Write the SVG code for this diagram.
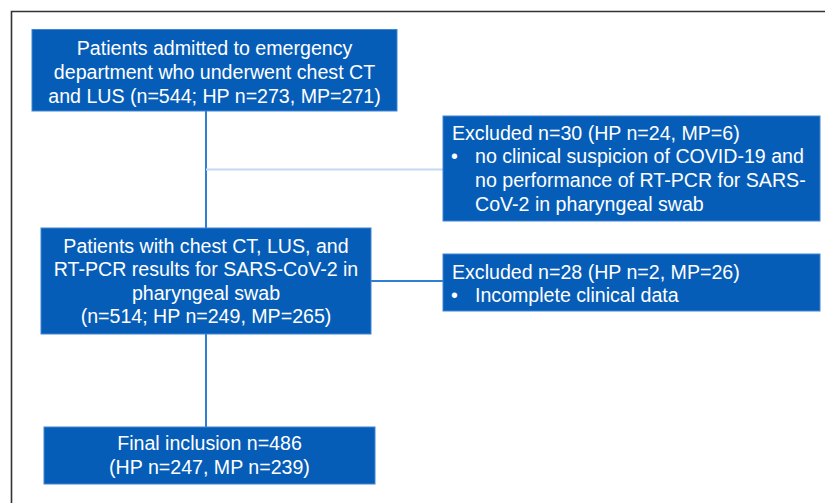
<svg xmlns="http://www.w3.org/2000/svg" width="825" height="503" viewBox="0 0 825 503">
<style>
.box{fill:#065db8;stroke:#3f86d4;stroke-width:1}
.t{font-family:"Liberation Sans",Arial,sans-serif;font-size:19.6px;fill:#ffffff}
.c{text-anchor:middle}
.ln{stroke:#2f7fd2;stroke-width:2;fill:none}
</style>
<rect width="825" height="503" fill="#ffffff"/>
<path d="M11.5,503 V11.5 H825" fill="none" stroke="#333333" stroke-width="1.6"/>
<g id="connectors">
<line class="ln" x1="206" y1="111" x2="206" y2="228"/>
<line x1="206" y1="169.5" x2="443" y2="169.5" stroke="#c6d8f1" stroke-width="2"/>
<line class="ln" x1="206" y1="334" x2="206" y2="427"/>
<line class="ln" x1="371" y1="281" x2="443" y2="281" stroke-width="1.6"/>
</g>
<g id="n1">
<rect class="box" x="32" y="29.5" width="365" height="81.5"/>
<text class="t c" x="214.5" y="55">Patients admitted to emergency</text>
<text class="t c" x="214.5" y="79">department who underwent chest CT</text>
<text class="t c" x="214.5" y="102.5">and LUS (n=544; HP n=273, MP=271)</text>
</g>
<g id="n2">
<rect class="box" x="443" y="116" width="377" height="105"/>
<text class="t" x="452" y="139.5">Excluded n=30 (HP n=24, MP=6)</text>
<text class="t" x="451" y="163">•</text>
<text class="t" x="475" y="163">no clinical suspicion of COVID-19 and</text>
<text class="t" x="475" y="187">no performance of RT-PCR for SARS-</text>
<text class="t" x="475" y="211">CoV-2 in pharyngeal swab</text>
</g>
<g id="n3">
<rect class="box" x="41" y="228" width="330" height="106"/>
<text class="t c" x="206" y="252.5">Patients with chest CT, LUS, and</text>
<text class="t c" x="206" y="276">RT-PCR results for SARS-CoV-2 in</text>
<text class="t c" x="206" y="300">pharyngeal swab</text>
<text class="t c" x="206" y="323">(n=514; HP n=249, MP=265)</text>
</g>
<g id="n4">
<rect class="box" x="443" y="254" width="377" height="57"/>
<text class="t" x="452" y="278.5">Excluded n=28 (HP n=2, MP=26)</text>
<text class="t" x="451" y="301.5">•</text>
<text class="t" x="475" y="301.5">Incomplete clinical data</text>
</g>
<g id="n5">
<rect class="box" x="44" y="427" width="331" height="57"/>
<text class="t c" x="209.5" y="450">Final inclusion n=486</text>
<text class="t c" x="209.5" y="474">(HP n=247, MP n=239)</text>
</g>
</svg>
